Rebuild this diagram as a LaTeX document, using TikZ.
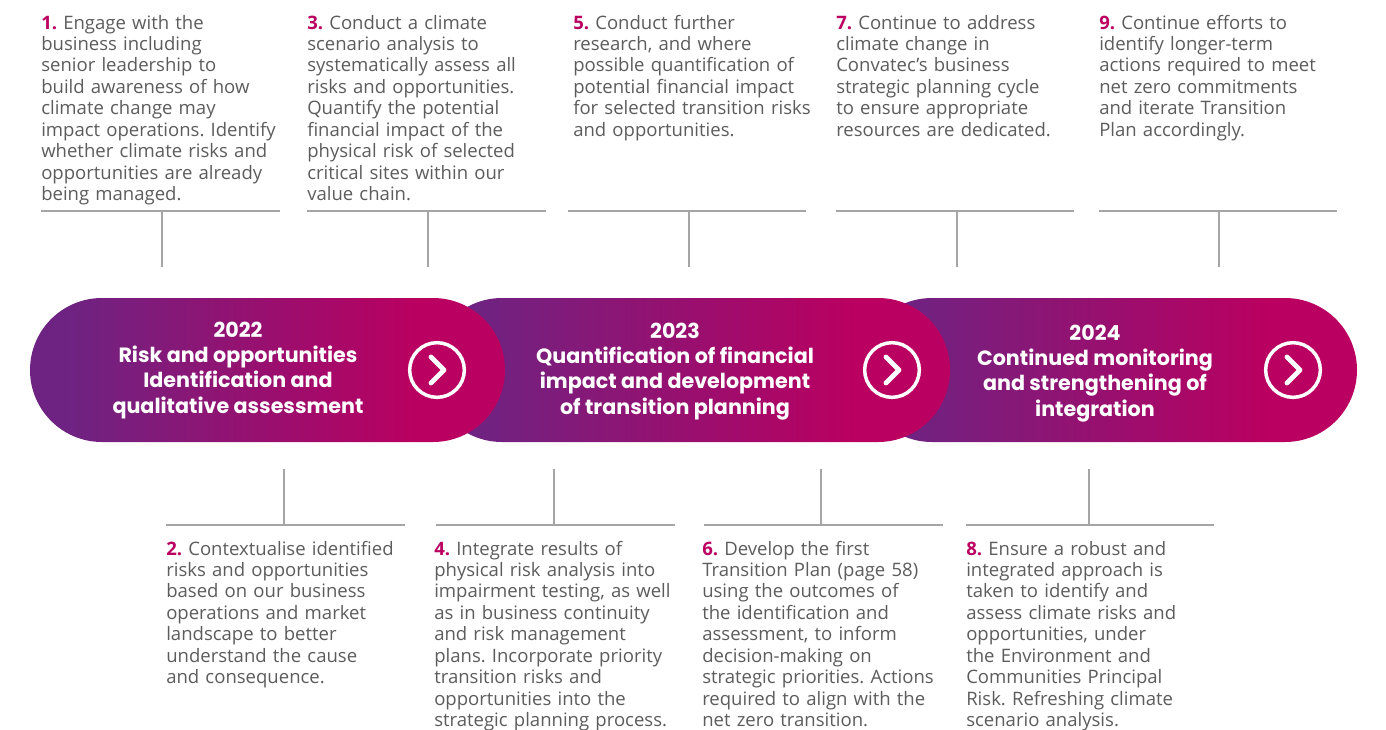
\documentclass[tikz,border=0pt]{standalone}
\usepackage{fontspec}
\setmainfont{Open Sans}
\newfontfamily\headfont{Poppins}
\usetikzlibrary{positioning}
\frenchspacing

\definecolor{cvpurple}{RGB}{110,35,130}
\definecolor{cvmagenta}{RGB}{186,0,96}
\definecolor{cvtext}{RGB}{92,92,92}
\definecolor{cvrule}{RGB}{165,165,165}
\pgfdeclarehorizontalshading{pillshade}{100bp}{color(0bp)=(cvpurple); color(29bp)=(cvpurple); color(66bp)=(cvmagenta); color(100bp)=(cvmagenta)}
\newcommand{\stepno}[1]{{\bfseries\color{cvmagenta}#1.}~}

\begin{document}
\begin{tikzpicture}[x=0.75pt, y=-0.75pt,
		pill/.style={shading=pillshade, rounded corners=54pt},
		note/.style={anchor=base west, text width=200pt, align=left, inner sep=0pt, text=cvtext, font=\fontsize{13.9pt}{16.1pt}\selectfont},
		heading/.style={anchor=base, align=center, inner sep=0pt, text=white, font=\headfont\bfseries\fontsize{15.5pt}{19pt}\selectfont},
		rule/.style={draw=cvrule, line width=1pt},
		nextbtn/.style={circle, draw=white, line width=2.6pt, minimum size=41pt, inner sep=0pt},
		chev/.style={draw=white, line width=3.6pt, line cap=round, line join=round}]
		\useasboundingbox (0,0) rectangle (1386,729);

		% timeline pills, last one drawn first
		\shade[pill] (860,298) rectangle (1357,442);
		\shade[pill] (430,298) rectangle (950,442);
		\shade[pill] (30,298) rectangle (505,442);

		% base sits on the last line
		\node[heading] at (238,413) (y1) {2022\\Risk and opportunities\\Identification and\\qualitative assessment};
		\node[heading] at (675,414) (y2) {2023\\Quantification of financial\\impact and development\\of transition planning};
		\node[heading] at (1095,416) (y3) {2024\\Continued monitoring\\and strengthening of\\integration};

		\node[nextbtn] at (437,370) (c1) {};
		\node[nextbtn] at (892,370) (c2) {};
		\node[nextbtn] at (1293,370) (c3) {};
		\draw[chev] ([shift={(-6,-13)}]c1.center) -- ([shift={(7,0)}]c1.center) -- ([shift={(-6,13)}]c1.center);
		\draw[chev] ([shift={(-6,-13)}]c2.center) -- ([shift={(7,0)}]c2.center) -- ([shift={(-6,13)}]c2.center);
		\draw[chev] ([shift={(-6,-13)}]c3.center) -- ([shift={(7,0)}]c3.center) -- ([shift={(-6,13)}]c3.center);

		% steps above the timeline
		\node[note] at (41,29) (s1) {\stepno{1}Engage with the\\business including\\senior leadership to\\build awareness of how\\climate change may\\impact operations. Identify\\whether climate risks and\\opportunities are already\\being managed.};
		\node[note] at (307,29) (s3) {\stepno{3}Conduct a climate\\scenario analysis to\\systematically assess all\\risks and opportunities.\\Quantify the potential\\financial impact of the\\physical risk of selected\\critical sites within our\\value chain.};
		\node[note] at (573,29) (s5) {\stepno{5}Conduct further\\research, and where\\possible quantification of\\potential financial impact\\for selected transition risks\\and opportunities.};
		\node[note] at (836,29) (s7) {\stepno{7}Continue to address\\climate change in\\Convatec’s business\\strategic planning cycle\\to ensure appropriate\\resources are dedicated.};
		\node[note] at (1099,29) (s9) {\stepno{9}Continue efforts to\\identify longer-term\\actions required to meet\\net zero commitments\\and iterate Transition\\Plan accordingly.};

		% steps below the timeline
		\node[note] at (166,555) (s2) {\stepno{2}Contextualise identified\\risks and opportunities\\based on our business\\operations and market\\landscape to better\\understand the cause\\and consequence.};
		\node[note] at (434,555) (s4) {\stepno{4}Integrate results of\\physical risk analysis into\\impairment testing, as well\\as in business continuity\\and risk management\\plans. Incorporate priority\\transition risks and\\opportunities into the\\strategic planning process.};
		\node[note] at (702,555) (s6) {\stepno{6}Develop the first\\Transition Plan (page 58)\\using the outcomes of\\the identification and\\assessment, to inform\\decision-making on\\strategic priorities. Actions\\required to align with the\\net zero transition.};
		\node[note] at (966,555) (s8) {\stepno{8}Ensure a robust and\\integrated approach is\\taken to identify and\\assess climate risks and\\opportunities, under\\the Environment and\\Communities Principal\\Risk. Refreshing climate\\scenario analysis.};

		% rules and ticks
		\draw[rule] (41,211) -- (280,211);
		\draw[rule] (307,211) -- (546,211);
		\draw[rule] (568,211) -- (806,211);
		\draw[rule] (836,211) -- (1074,211);
		\draw[rule] (1099,211) -- (1337,211);
		\coordinate (a1) at (162,211); \coordinate (b1) at (162,267);
		\coordinate (a3) at (428,211); \coordinate (b3) at (428,267);
		\coordinate (a5) at (689,211); \coordinate (b5) at (689,267);
		\coordinate (a7) at (957,211); \coordinate (b7) at (957,267);
		\coordinate (a9) at (1219,211); \coordinate (b9) at (1219,267);
		\draw[rule] (a1) -- (b1);
		\draw[rule] (a3) -- (b3);
		\draw[rule] (a5) -- (b5);
		\draw[rule] (a7) -- (b7);
		\draw[rule] (a9) -- (b9);

		\draw[rule] (166,525) -- (405,525);
		\draw[rule] (436,525) -- (675,525);
		\draw[rule] (704,525) -- (943,525);
		\draw[rule] (966,525) -- (1214,525);
		\coordinate (a2) at (284,469); \coordinate (b2) at (284,525);
		\coordinate (a4) at (554,469); \coordinate (b4) at (554,525);
		\coordinate (a6) at (821,469); \coordinate (b6) at (821,525);
		\coordinate (a8) at (1089,469); \coordinate (b8) at (1089,525);
		\draw[rule] (a2) -- (b2);
		\draw[rule] (a4) -- (b4);
		\draw[rule] (a6) -- (b6);
		\draw[rule] (a8) -- (b8);
	\end{tikzpicture}
\end{document}
